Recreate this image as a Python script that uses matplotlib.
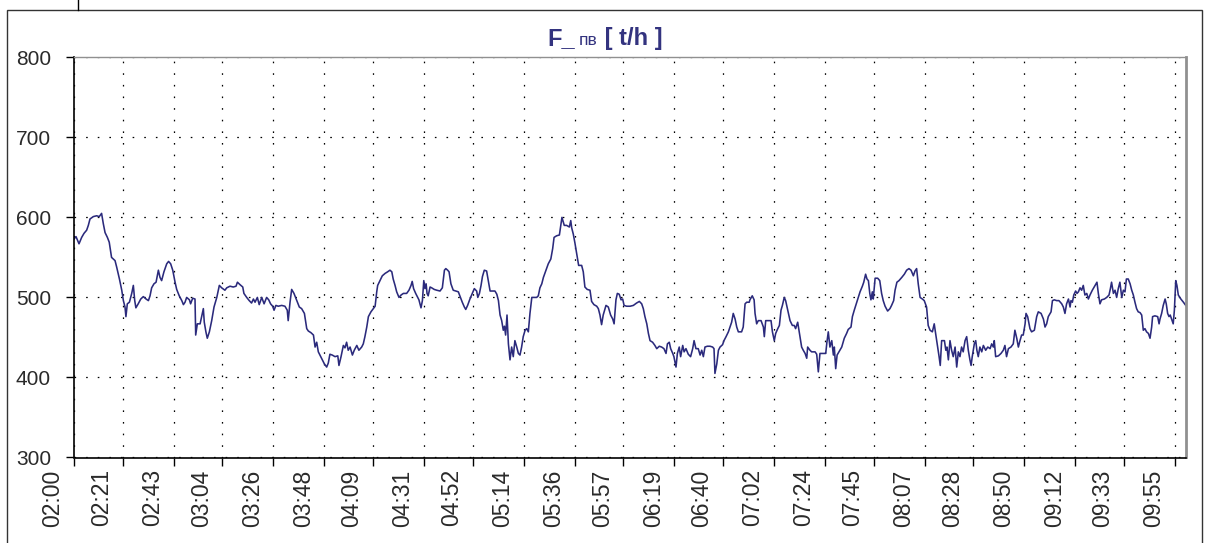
import matplotlib
matplotlib.use('Agg')
import matplotlib.pyplot as plt
import matplotlib.transforms as mtransforms
from matplotlib.patches import Rectangle
from matplotlib.lines import Line2D

plt.rcParams['font.family'] = ['Liberation Sans', 'DejaVu Sans']

# minutes after 02:00
minutes = [
    0.0, 0.86, 1.44, 2.16, 3.31, 4.31, 5.46, 6.18, 6.9, 8.34, 9.78, 10.9, 11.9, 12.65, 13.4, 14.4, 15.2, 16.2,
    17.7, 18.4, 19.6, 20.6, 21.3, 22.0, 22.4, 23.0, 23.9, 24.9, 25.6, 26.2, 26.7, 27.7, 28.8, 29.9, 31.1, 32.1,
    32.8, 33.5, 34.5, 35.4, 36.4, 37.1, 37.8, 38.8, 40.0, 40.8, 41.7, 42.6, 43.6, 44.3, 45.4, 46.5, 47.2, 47.9,
    48.6, 49.8, 50.3, 51.2, 52.2, 52.5, 53.2, 54.4, 55.2, 55.8, 56.2, 56.9, 57.5, 58.4, 59.4, 60.4, 61.6, 62.7,
    63.7, 65.1, 65.9, 67.3, 68.7, 69.9, 70.5, 71.6, 72.8, 73.3, 74.5, 75.6, 76.6, 77.4, 78.1, 79.1, 79.9, 81.0,
    82.0, 83.1, 84.0, 84.8, 85.7, 86.3, 87.1, 88.1, 89.6, 91.0, 92.0, 92.4, 93.2, 93.9, 94.9, 96.1, 97.2,
    98.2, 99.4, 100.4, 101.1, 102.2, 103.3, 104.0, 104.7, 105.4, 106.1, 107.1, 108.0, 109.0, 109.7, 110.4,
    111.4, 112.6, 113.8, 114.3, 115.2, 116.2, 116.9, 117.6, 118.3, 119.1, 120.1, 120.9, 122.0, 122.9, 124.1,
    124.8, 125.5, 126.3, 127.0, 128.1, 129.1, 129.9, 130.6, 131.0, 132.0, 133.0, 134.2, 135.3, 136.3, 137.1,
    137.7, 138.5, 139.2, 140.2, 141.1, 142.1, 143.5, 144.5, 145.4, 145.9, 146.5, 147.4, 148.3, 148.8, 149.7,
    150.3, 150.9, 151.4, 151.9, 152.3, 152.8, 153.6, 154.3, 155.4, 156.5, 157.9, 158.9, 159.8, 160.4, 161.2,
    161.8, 162.6, 163.6, 164.7, 165.8, 166.6, 167.5, 168.4, 169.0, 169.8, 170.8, 171.8, 172.7, 173.7, 174.2,
    174.9, 175.6, 176.2, 177.0, 178.0, 178.7, 179.5, 180.5, 181.6, 182.4, 183.1, 183.8, 184.5, 185.2, 185.7,
    186.2, 186.8, 187.4, 188.1, 188.8, 189.5, 190.2, 191.0, 191.7, 192.4, 193.1,
    193.8, 194.6, 195.3, 196.0, 196.7, 197.5, 198.4, 199.6, 200.3, 201.0, 201.8, 202.5, 203.6, 204.6, 205.7,
    206.5, 207.1, 208.2, 209.4, 210.0, 210.5, 211.1, 211.5, 212.5, 213.7, 214.3, 214.7, 215.4, 216.1, 216.9,
    217.7, 219.0, 219.7, 220.4, 221.4, 222.6, 223.3, 224.3, 225.5, 226.2, 226.9, 227.6, 228.3, 229.5, 230.5,
    231.5, 232.4, 233.0, 233.8, 234.4, 235.2, 236.0, 236.7, 237.3, 238.4, 239.9, 241.3, 242.7, 243.9, 244.9,
    245.6, 246.3, 247.1, 247.8, 248.5, 249.6, 250.6, 251.4, 252.5, 253.5, 254.5, 255.4, 256.0, 256.8, 257.4,
    258.3, 258.8, 259.7, 260.3, 261.1, 261.7, 262.6, 263.2, 264.0, 265.0, 266.0, 266.9, 267.5, 268.3, 269.3,
    270.1, 270.8, 271.5, 272.2, 273.2, 274.4, 275.5, 276.1, 276.5, 277.3, 278.0, 278.7, 279.8, 280.4, 281.3,
    282.3, 283.0, 283.7, 284.4, 285.2, 285.9, 286.6, 288.0, 288.7, 289.5, 290.2, 291.3,
    291.6, 292.6, 293.4, 293.8, 294.5, 295.2, 296.4, 297.4, 297.8, 298.4, 299.5, 300.7, 301.3, 302.1, 302.7,
    303.6, 304.3, 305.0, 305.6, 306.4, 307.0, 307.9, 308.9, 309.9, 310.7, 311.3, 312.2, 313.2, 313.9, 314.6,
    315.4, 316.1, 316.5, 317.5, 318.2, 319.7, 320.4, 321.1, 321.8, 323.3, 324.3, 324.8, 325.4, 326.1, 326.9,
    327.6, 328.0, 328.6, 329.2, 330.0, 331.2, 332.3, 333.3, 334.0, 335.2, 335.8, 336.6, 337.7, 338.4, 339.1,
    340.1, 340.7, 341.5, 342.1, 342.7, 343.3, 343.8, 344.4, 344.8, 345.6, 346.7, 347.6, 348.4, 349.1, 349.9,
    351.0, 352.0, 352.7, 353.6, 354.2, 355.0, 355.9, 357.1, 358.2, 359.2, 360.2, 361.1, 362.1, 362.8, 363.5,
    364.2, 365.0, 366.0, 366.8, 367.8, 368.5, 369.3, 370.3, 371.1, 371.7, 372.6, 373.2, 373.7, 374.3, 375.5,
    376.1, 376.6, 377.2, 377.9, 378.6, 379.3, 380.1, 380.8, 381.5, 382.2, 382.9, 383.6, 384.4, 385.1, 385.8,
    386.5, 387.0, 387.5, 388.4, 389.0, 389.5, 390.1, 390.8, 391.6, 392.3, 393.3, 394.2, 395.2, 395.9, 396.6,
    397.0, 397.6, 398.8, 399.9, 400.9, 401.6, 402.3, 403.1, 404.2, 405.2, 405.9, 406.7, 407.4, 408.1, 408.8,
    409.5, 410.3, 410.7, 411.4, 412.4, 413.1, 414.3, 415.3, 416.0, 417.2, 418.2, 418.9, 419.6, 420.3, 421.5,
    422.1, 422.9, 423.9, 424.9, 426.1, 426.8, 427.5, 428.2, 429.0, 429.7, 430.1, 430.7, 431.3, 432.1, 432.7,
    433.3, 434.0, 434.7, 435.4, 436.1, 436.9, 437.6, 438.3, 439.3, 440.5, 441.3, 441.9, 442.6, 443.3, 444.5,
    445.5, 446.5, 447.1, 447.6, 448.4, 449.1, 449.8, 450.5, 451.2, 452.0, 452.7, 453.4, 454.0, 454.8, 455.6,
    456.3, 457.0, 457.7, 458.4, 459.1, 459.9, 460.6, 461.3, 462.0, 462.7, 463.5, 464.2, 464.9, 465.3, 466.3,
    467.5, 468.1, 468.5, 469.2, 469.9, 470.7, 471.2, 471.8, 472.4, 472.9, 473.5, 474.2, 474.7, 475.3, 475.8,
    476.4, 477.5, 478.6, 479.6,
]

# feed water flow, t/h
flow = [
    573, 576, 572, 567, 575, 580, 584, 590, 598, 601, 602, 601, 605, 592, 581, 575, 569, 550,
    546, 538, 523, 509, 496, 488, 476, 492, 494, 505, 515, 496, 487, 492, 498, 501, 498, 496,
    502, 512, 517, 519, 534, 525, 521, 532, 542, 545, 542, 534, 519, 510, 502, 496, 491, 494,
    500, 497, 492, 499, 498, 453, 467, 467, 478, 486, 469, 457, 449, 457, 471, 488, 500, 515,
    512, 509, 512, 514, 513, 514, 519, 516, 513, 505, 500, 496, 493, 498, 494, 500, 491, 500,
    492, 500, 497, 492, 489, 484, 490, 489, 490, 489, 484, 471, 494, 510, 505, 496, 488,
    486, 480, 461, 458, 456, 453, 438, 444, 432, 428, 422, 417, 413, 418, 429,
    428, 426, 427, 415, 426, 440, 437, 444, 434, 438, 428, 434, 440, 434, 438,
    442, 451, 463, 476, 482, 486, 489, 507, 515, 521, 527, 530, 532, 534, 532,
    523, 515, 507, 500, 503, 505, 505, 509, 515, 520, 511, 505, 500, 497, 487,
    496, 521, 511, 517, 505, 502, 513, 512, 510, 509, 508, 512, 534, 536, 534,
    532, 517, 509, 508, 507, 501, 494, 488, 485, 490, 498, 505, 511, 508, 500,
    505, 515, 526, 534, 533, 521, 508, 508, 508, 504, 496, 478, 471, 459, 464,
    453, 478, 442, 422, 438, 426, 446, 438, 430, 428, 438,
    451, 459, 461, 457, 480, 500, 500, 500, 502, 512, 517, 525, 534, 542, 548,
    561, 575, 577, 578, 590, 600, 594, 590, 590, 588, 596, 587, 579, 568, 554,
    540, 540, 532, 513, 510, 509, 495, 491, 489, 486, 478, 466, 478, 490, 488,
    478, 473, 467, 497, 505, 504, 497, 498, 490, 489, 489, 490, 493, 495, 492,
    486, 476, 467, 455, 446, 444, 440, 436, 439, 438, 436, 430, 442, 444, 436,
    430, 426, 413, 430, 438, 426, 440, 432, 436, 429, 426, 436, 446, 436, 436,
    428, 434, 426, 438, 439, 439, 438, 436, 405, 417, 434, 438, 441, 446, 451,
    457, 463, 469, 480, 473, 463, 457, 457, 463, 492, 494, 494,
    497, 502, 497, 480, 467, 471, 471, 463, 451, 471, 471, 471, 457, 446, 455,
    461, 465, 484, 490, 500, 496, 484, 471, 465, 465, 461, 469, 451, 438, 434,
    430, 424, 438, 434, 432, 432, 429, 407, 430, 430, 430, 444, 457, 438, 446,
    428, 438, 411, 428, 432, 438, 449, 455, 460, 463, 476, 484, 494, 500, 507,
    514, 519, 529, 523, 521, 505, 497, 507, 498, 524, 524, 521, 505, 496, 489,
    483, 486, 490, 496, 509, 519, 521, 525, 529, 534, 536, 534, 527, 533, 536,
    517, 500, 498, 496, 488, 465, 459, 457, 467, 455, 438, 426, 415, 446, 446,
    434, 438, 422, 446, 434, 426, 438, 413, 432, 426, 438, 432, 446, 451, 434,
    422, 415, 426, 442, 446, 434, 426, 438, 432, 440, 434, 438, 436, 442, 438,
    446, 426, 427, 430, 434, 440, 426, 436, 438, 442, 459, 449, 438, 446, 453,
    453, 467, 480, 476, 461, 457, 459, 476, 482, 480, 473, 463, 467, 476, 482,
    496, 497, 496, 496, 492, 488, 480, 492, 498, 488, 496, 494, 503, 508, 505,
    507, 512, 509, 515, 503, 505, 498, 503, 509, 515, 519, 505, 492, 497, 498,
    500, 503, 511, 519, 505, 509, 500, 511, 519, 500, 509, 507, 523, 523, 517,
    509, 503, 494, 486, 482, 481, 478, 459, 461, 457, 455, 449, 463, 476, 477,
    476, 467, 473, 480, 490, 498, 492, 480, 476, 478, 473, 467, 484, 521, 515,
    503, 498, 494, 490,
]

tick_minutes = [0, 21, 43, 64, 86, 108, 129, 151, 172, 194, 216, 237,
                259, 280, 302, 324, 345, 367, 388, 410, 432, 453, 475]
tick_labels = ['02:00', '02:21', '02:43', '03:04', '03:26', '03:48', '04:09', '04:31',
               '04:52', '05:14', '05:36', '05:57', '06:19', '06:40', '07:02', '07:24',
               '07:45', '08:07', '08:28', '08:50', '09:12', '09:33', '09:55']
y_ticks = [300, 400, 500, 600, 700, 800]

navy = '#2b2a7c'

fig = plt.figure(figsize=(12.07, 5.43), dpi=100)
ax = fig.add_axes([74 / 1207, 85.5 / 543, (1185.5 - 74) / 1207, (457.5 - 57.3) / 543])

ax.plot(minutes, flow, color=navy, lw=1.15)

ax.set_xlim(0, 479.5)
ax.set_ylim(300, 800)
ax.set_yticks(y_ticks)
ax.set_xticks(tick_minutes)
ax.set_xticklabels(tick_labels, rotation=90, va='top', ha='center')

ax.grid(True, color='black', lw=0.9, linestyle=(0, (1.3, 8)))
ax.tick_params(axis='both', direction='out', length=5.5, width=1.0, color='black',
               labelcolor='#2a2a2a')
ax.tick_params(axis='y', pad=11, labelsize=15)
ax.tick_params(axis='x', pad=3, labelsize=16.5)

# excel puts the rotated labels to the left of the tick
shift = mtransforms.ScaledTranslation(-0.21, 0, fig.dpi_scale_trans)
for lab in ax.get_xticklabels():
    lab.set_transform(lab.get_transform() + shift)

for s in ['left', 'bottom']:
    ax.spines[s].set_color('black')
    ax.spines[s].set_linewidth(1.2)
ax.spines['top'].set_color('#909090')
ax.spines['top'].set_linewidth(1.0)
ax.spines['right'].set_color('#909090')
ax.spines['right'].set_linewidth(2.0)

# outer frame of the chart
fig.patches.append(Rectangle((7 / 1207, -0.05), (1202 - 7) / 1207, 1.05 - 10 / 543,
                             transform=fig.transFigure, fill=False, ec='#333333', lw=1.0))
fig.lines.append(Line2D([78 / 1207, 78 / 1207], [1 - 10 / 543, 1.0],
                        transform=fig.transFigure, color='black', lw=1.0))

# title F_пв [ t/h ] made of three pieces
fig.canvas.draw()
r = fig.canvas.get_renderer()
ty = 1 - 45 / 543
parts = [('F_', 17, 'bold'), ('пв', 12.5, 'normal'), (' [ t/h ]', 17, 'bold')]
texts = []
for s, size, weight in parts:
    texts.append(fig.text(0, ty, s, fontsize=size, fontweight=weight, color='#33337f',
                          ha='left', va='baseline'))
widths = [t.get_window_extent(r).width for t in texts]
gap = 4
x = 605 - (sum(widths) + gap) / 2
for t, w, g in zip(texts, widths, [gap, 0, 0]):
    t.set_x(x / 1207)
    x += w + g

fig.savefig('out.png', dpi=100)
